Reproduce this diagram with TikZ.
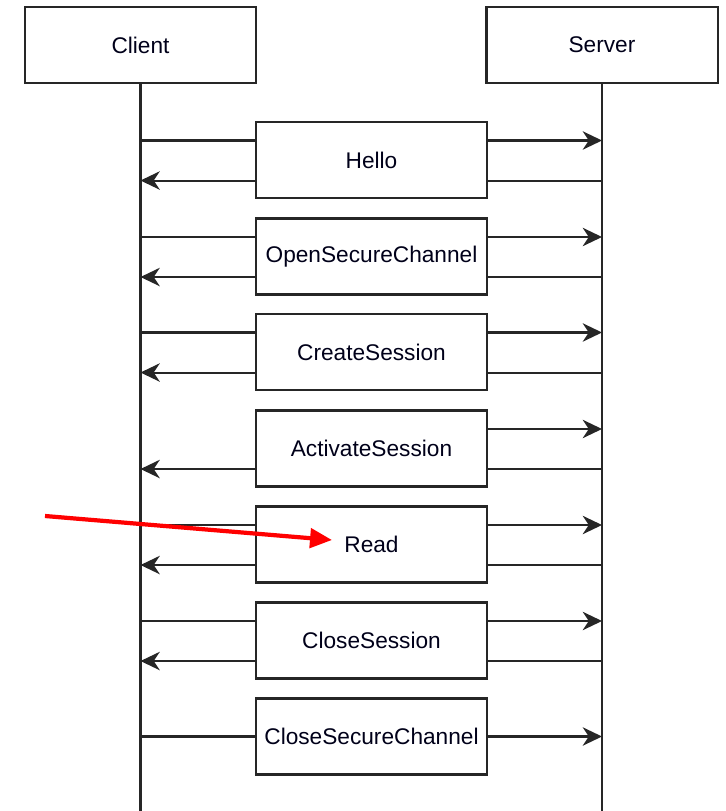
\documentclass[tikz,border=0pt]{standalone}
\usepackage{fontspec}
\setmainfont{Liberation Sans}
\usetikzlibrary{calc,arrows.meta}
\begin{document}
\begin{tikzpicture}[x=0.02cm,y=-0.02cm,
  box/.style={draw=black!85,line width=1.15pt,minimum width=231*0.02cm,minimum height=76*0.02cm,inner sep=0pt,font=\fontsize{12.9}{15}\selectfont,text=black!90!blue},
  msg/.style={draw=black!85,line width=1.15pt},
  arr/.style={msg,-{Stealth[length=11pt,width=10.5pt,inset=3.5pt]}},
  redarr/.style={draw=red,line width=2.4pt,-{Triangle[length=12.5pt,width=11pt]}}]
\useasboundingbox (0,0) rectangle (725,811);
\node[box] (client) at (140.5,45) {Client};
\node[box] (server) at (602,45) {Server};
\coordinate (cend) at (140.5,811);
\coordinate (send) at (602,811);
\draw[msg] (client.south) -- (cend);
\draw[msg] (server.south) -- (send);
\foreach \n/\y/\t in {m1/160/Hello,m2/256.5/OpenSecureChannel,m3/352/CreateSession,m4/448.5/ActivateSession,m5/544.5/Read,m6/640.5/CloseSession,m7/736.5/CloseSecureChannel}{
  \node[box] (\n) at (371.5,\y) {\t};
  \coordinate (\n-lt) at ($(\n.north west)!0.25!(\n.south west)$);
  \coordinate (\n-rt) at ($(\n.north east)!0.25!(\n.south east)$);
  \coordinate (\n-lb) at ($(\n.north west)!0.763!(\n.south west)$);
  \coordinate (\n-rb) at ($(\n.north east)!0.763!(\n.south east)$);
}
% two-way exchanges
\foreach \n in {m1,m2,m3,m5,m6}{
  \draw[msg] (client.south |- \n-lt) -- (\n-lt);
  \draw[arr] (\n-rt) -- (server.south |- \n-rt);
  \draw[msg] (server.south |- \n-rb) -- (\n-rb);
  \draw[arr] (\n-lb) -- (client.south |- \n-lb);
}
% ActivateSession
\draw[arr] (m4-rt) -- (server.south |- m4-rt);
\draw[msg] (server.south |- m4-rb) -- (m4-rb);
\draw[arr] (m4-lb) -- (client.south |- m4-lb);
% CloseSecureChannel
\coordinate (m7l) at (m7.west);
\coordinate (m7r) at (m7.east);
\draw[msg] (client.south |- m7l) -- (m7l);
\draw[arr] (m7r) -- (server.south |- m7r);
% red pointer
\coordinate (rs) at (45,516);
\coordinate (re) at (332,540);
\draw[redarr] (rs) -- (re);
\end{tikzpicture}
\end{document}
